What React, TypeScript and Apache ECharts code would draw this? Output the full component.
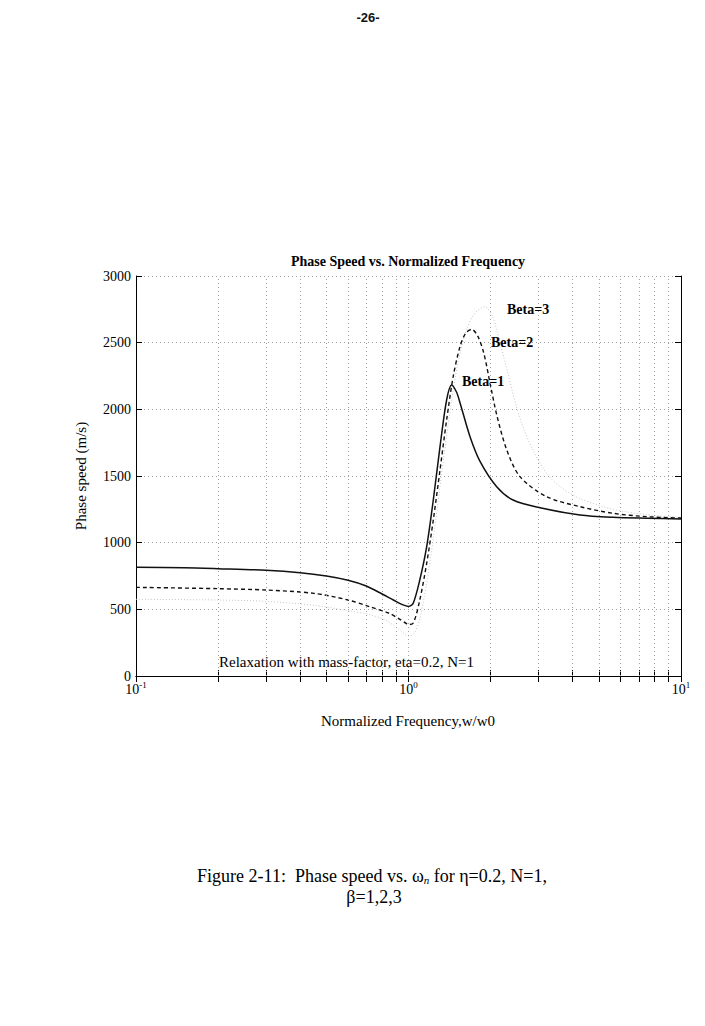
import React, { useEffect, useRef } from "react";
import * as echarts from "echarts";

// ---- data ----
const beta1Freq = [0.1, 0.15, 0.2, 0.3, 0.4, 0.5, 0.6, 0.7, 0.8, 0.88, 0.95, 1.0, 1.04, 1.1, 1.166, 1.233, 1.305, 1.38, 1.44, 1.5, 1.545, 1.682, 1.83, 2.107, 2.42, 3.04, 4.26, 5.64, 7.48, 10];
const beta1Speed = [815, 812, 805, 793, 775, 750, 718, 675, 615, 570, 535, 522, 545, 720, 970, 1320, 1720, 2070, 2183, 2130, 2050, 1795, 1610, 1420, 1320, 1262, 1208, 1190, 1183, 1178];

const beta2Freq = [0.1, 0.2, 0.3, 0.45, 0.6, 0.72, 0.85, 0.93, 0.98, 1.0, 1.043, 1.1, 1.166, 1.233, 1.305, 1.38, 1.46, 1.545, 1.62, 1.705, 1.8, 1.89, 1.99, 2.107, 2.29, 2.565, 3.21, 4.26, 5.64, 7.48, 10];
const beta2Speed = [665, 655, 645, 620, 570, 520, 470, 425, 395, 385, 400, 570, 845, 1170, 1545, 1920, 2250, 2470, 2570, 2600, 2545, 2420, 2200, 1960, 1700, 1495, 1345, 1270, 1220, 1195, 1185];

const beta3Freq = [0.1, 0.2, 0.3, 0.45, 0.6, 0.72, 0.83, 0.93, 1.0, 1.05, 1.1, 1.166, 1.233, 1.305, 1.38, 1.46, 1.545, 1.635, 1.75, 1.91, 2.04, 2.107, 2.25, 2.49, 2.63, 2.86, 3.21, 3.6, 4.26, 5.64, 7.48, 10];
const beta3Speed = [575, 570, 560, 530, 490, 460, 415, 345, 300, 320, 430, 700, 1030, 1420, 1800, 2150, 2420, 2600, 2720, 2770, 2690, 2595, 2370, 2020, 1870, 1695, 1520, 1420, 1330, 1250, 1210, 1190];

const xTickFreqs = [0.1, 0.2, 0.3, 0.4, 0.5, 0.6, 0.7, 0.8, 0.9, 1, 2, 3, 4, 5, 6, 7, 8, 9, 10];
const xGridFreqs = [0.2, 0.3, 0.4, 0.5, 0.6, 0.7, 0.8, 0.9, 1, 2, 3, 4, 5, 6, 7, 8, 9];
const xMin = 0.1;
const xMax = 10;
const yMin = 0;
const yMax = 3000;
const yStep = 500;

const seriesNames = ["Beta=1", "Beta=2", "Beta=3"];
const titleText = "Phase Speed vs. Normalized Frequency";
const yName = "Phase speed (m/s)";
const xName = "Normalized Frequency,w/w0";
const noteText = "Relaxation with mass-factor, eta=0.2, N=1";
const pageNo = "-26-";

const SERIF = "'Liberation Serif', 'DejaVu Serif', serif";

function zip(a: number[], b: number[]) {
  return a.map((v, i) => [v, b[i]]);
}

export default function App() {
  const ref = useRef<HTMLDivElement>(null);
  useEffect(() => {
    if (!ref.current) return;
    const chart = echarts.init(ref.current, null, { renderer: "svg" });
    const gridLine = { color: "#a0a0a0", width: 1, type: [1, 3] as any };
    const xAxisBase = {
      type: "log" as const,
      logBase: 10,
      min: xMin,
      max: xMax,
      splitLine: { show: false },
      axisLine: { show: true, lineStyle: { color: "#000", width: 1 } },
      axisTick: {
        show: true,
        inside: true,
        length: 6,
        customValues: xTickFreqs,
        lineStyle: { color: "#000", width: 1 },
      },
      minorTick: { show: false },
    };
    const yAxisBase = {
      type: "value" as const,
      min: yMin,
      max: yMax,
      interval: yStep,
      axisLine: { show: true, lineStyle: { color: "#000", width: 1 } },
      axisTick: { show: true, inside: true, length: 6, lineStyle: { color: "#000" } },
    };
    chart.setOption({
      animation: false,
      backgroundColor: "#fff",
      grid: { left: 136, right: 24, top: 276, bottom: 350, containLabel: false },
      xAxis: [
        {
          ...xAxisBase,
          position: "bottom",
          axisLabel: {
            show: true,
            margin: 4,
            color: "#000",
            fontFamily: SERIF,
            formatter: (v: number) => {
              const e = Math.round(Math.log10(v));
              return "{b|10}{s|" + e + "}";
            },
            rich: {
              b: { fontSize: 14, fontFamily: SERIF, color: "#000", lineHeight: 16, verticalAlign: "bottom" },
              s: { fontSize: 9, fontFamily: SERIF, color: "#000", lineHeight: 16, verticalAlign: "top" },
            },
          },
        },
        { ...xAxisBase, position: "top", axisLabel: { show: false } },
      ],
      yAxis: [
        {
          ...yAxisBase,
          position: "left",
          splitLine: { show: true, lineStyle: gridLine },
          axisLabel: {
            show: true,
            margin: 5,
            fontSize: 14,
            fontFamily: SERIF,
            color: "#000",
            formatter: (v: number) => String(v),
          },
        },
        {
          ...yAxisBase,
          position: "right",
          splitLine: { show: false },
          axisLabel: { show: false },
        },
      ],
      series: [
        {
          type: "line",
          name: "grid",
          data: [],
          z: 1,
          silent: true,
          markLine: {
            silent: true,
            symbol: "none",
            label: { show: false },
            lineStyle: gridLine,
            data: xGridFreqs.map((f) => ({ xAxis: f })),
          },
        },
        {
          type: "line",
          name: seriesNames[2],
          data: zip(beta3Freq, beta3Speed),
          showSymbol: false,
          symbol: "none",
          smooth: 0.3,
          z: 3,
          lineStyle: { color: "#c4c4c4", width: 1, type: [1, 2] },
        },
        {
          type: "line",
          name: seriesNames[1],
          data: zip(beta2Freq, beta2Speed),
          showSymbol: false,
          symbol: "none",
          smooth: 0.3,
          z: 4,
          lineStyle: { color: "#111", width: 1.4, type: [4, 3] },
        },
        {
          type: "line",
          name: seriesNames[0],
          data: zip(beta1Freq, beta1Speed),
          showSymbol: false,
          symbol: "none",
          smooth: 0.3,
          z: 5,
          lineStyle: { color: "#111", width: 1.5, type: "solid" },
        },
      ],
      graphic: [
        {
          type: "text",
          x: 368,
          y: 17,
          style: { text: pageNo, font: "bold 13px 'Liberation Sans', sans-serif", fill: "#111", align: "center", verticalAlign: "middle" },
        },
        {
          type: "text",
          x: 408,
          y: 261,
          style: { text: titleText, font: "bold 14px " + SERIF, fill: "#000", align: "center", verticalAlign: "middle" },
        },
        {
          type: "text",
          x: 507,
          y: 309,
          z: 10,
          style: { text: seriesNames[2], font: "bold 14px " + SERIF, fill: "#000", align: "left", verticalAlign: "middle" },
        },
        {
          type: "text",
          x: 491,
          y: 342,
          z: 10,
          style: { text: seriesNames[1], font: "bold 14px " + SERIF, fill: "#000", align: "left", verticalAlign: "middle" },
        },
        {
          type: "text",
          x: 462,
          y: 381,
          z: 10,
          style: { text: seriesNames[0], font: "bold 14px " + SERIF, fill: "#000", align: "left", verticalAlign: "middle" },
        },
        {
          type: "text",
          x: 219,
          y: 662,
          z: 10,
          style: { text: noteText, font: "15px " + SERIF, fill: "#000", align: "left", verticalAlign: "middle" },
        },
        {
          type: "text",
          x: 81,
          y: 476,
          rotation: Math.PI / 2,
          style: { text: yName, font: "15px " + SERIF, fill: "#000", align: "center", verticalAlign: "middle" },
        },
        {
          type: "text",
          x: 408,
          y: 721,
          style: { text: xName, font: "15px " + SERIF, fill: "#000", align: "center", verticalAlign: "middle" },
        },
        {
          type: "text",
          x: 372,
          y: 875,
          style: {
            text: "{a|Figure 2-11:  Phase speed vs. ω}{n|n}{a| for η=0.2, N=1,}",
            align: "center",
            verticalAlign: "middle",
            rich: {
              a: { fontSize: 18, fontFamily: SERIF, fill: "#000", lineHeight: 20, verticalAlign: "bottom" },
              n: { fontSize: 11, fontFamily: SERIF, fontStyle: "italic", fill: "#000", lineHeight: 20, verticalAlign: "bottom" },
            },
          },
        },
        {
          type: "text",
          x: 374,
          y: 897,
          style: { text: "β=1,2,3", font: "18px " + SERIF, fill: "#000", align: "center", verticalAlign: "middle" },
        },
      ],
    });
    return () => chart.dispose();
  }, []);
  return <div ref={ref} style={{ position: "fixed", left: 0, top: 0, width: 705, height: 1026 }} />;
}
